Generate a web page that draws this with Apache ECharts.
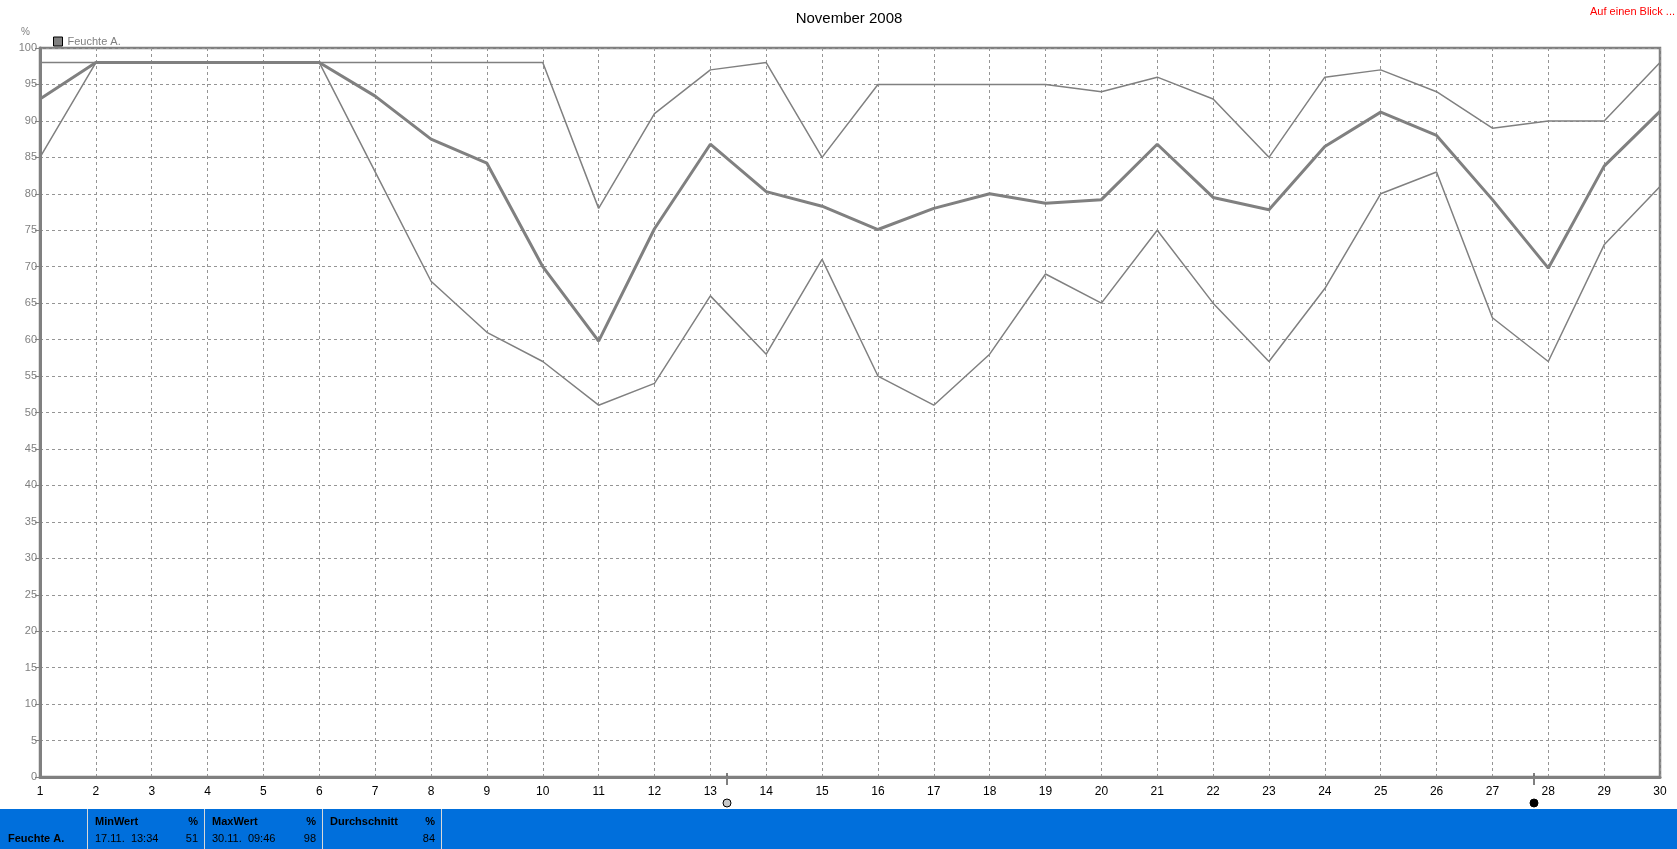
<!DOCTYPE html>
<html>
<head>
<meta charset="utf-8">
<script src="https://cdn.jsdelivr.net/npm/echarts@6/dist/echarts.min.js"></script>
<style>
html,body{margin:0;padding:0;background:#fff;}
#chart{width:1677px;height:849px;}
</style>
</head>
<body>
<div id="chart"></div>
<script>
// ---- data ----
const days = [1,2,3,4,5,6,7,8,9,10,11,12,13,14,15,16,17,18,19,20,21,22,23,24,25,26,27,28,29,30];
const maxValues = [98,98,98,98,98,98,98,98,98,98,78,91,97,98,85,95,95,95,95,94,96,93,85,96,97,94,89,90,90,98];
const avgValues = [93.0,98,98,98,98,98,93.4,87.5,84.2,70.0,59.8,75.2,86.8,80.3,78.3,75.1,78.0,80.0,78.7,79.2,86.8,79.5,77.8,86.5,91.2,88.0,79.2,69.8,83.8,91.3];
const minValues = [85,98,98,98,98,98,83,68,61,57,51,54,66,58,71,55,51,58,69,65,75,65,57,67,80,83,63,57,73,81];
const moonDays = [13.3, 27.75];
const moonPhases = ['full', 'new'];
const titleText = 'November 2008';
const seriesName = 'Feuchte A.';
const unitText = '%';
const summaryHeaders = ['MinWert', 'MaxWert', 'Durchschnitt'];
const summaryDates = ['17.11.  13:34', '30.11.  09:46', ''];
const summaryValues = ['51', '98', '84'];

const pair = arr => arr.map((v, i) => [days[i], v]);
const gray = '#808080';
const gridGray = '#959595';
const font = 'Liberation Sans, Arial, sans-serif';

const chart = echarts.init(document.getElementById('chart'), null, {renderer: 'canvas'});

const tableTop = 809;
const cellEdges = [0, 87, 204, 322, 441];

const graphics = [
  {type: 'text', left: 21, top: 27, style: {text: unitText, fill: gray, font: '10px ' + font}},
  {type: 'text', right: 2, top: 6, style: {text: 'Auf einen Blick ...', fill: '#ff0000', font: '11px ' + font}},
  {type: 'rect', shape: {x: 0, y: tableTop, width: 1677, height: 40}, style: {fill: '#006fdc'}}
];
for (let i = 1; i < cellEdges.length; i++) {
  graphics.push({type: 'rect', shape: {x: cellEdges[i], y: tableTop, width: 1, height: 40}, style: {fill: '#d8d8d8'}});
}
graphics.push({type: 'text', x: 8, y: 839, style: {text: seriesName, fill: '#000', font: 'bold 11px ' + font, textVerticalAlign: 'middle'}});
for (let i = 0; i < 3; i++) {
  const l = cellEdges[i + 1] + 8, r = cellEdges[i + 2] - 6;
  graphics.push({type: 'text', x: l, y: 822, style: {text: summaryHeaders[i], fill: '#000', font: 'bold 11px ' + font, textVerticalAlign: 'middle'}});
  graphics.push({type: 'text', x: r, y: 822, style: {text: unitText, fill: '#000', font: 'bold 11px ' + font, textAlign: 'right', textVerticalAlign: 'middle'}});
  if (summaryDates[i]) graphics.push({type: 'text', x: l, y: 839, style: {text: summaryDates[i], fill: '#000', font: '11px ' + font, textVerticalAlign: 'middle'}});
  graphics.push({type: 'text', x: r, y: 839, style: {text: summaryValues[i], fill: '#000', font: '11px ' + font, textAlign: 'right', textVerticalAlign: 'middle'}});
}

const option = {
  animation: false,
  backgroundColor: '#fff',
  title: {
    text: titleText, left: 844, top: 6, textAlign: 'center',
    textStyle: {fontFamily: font, fontSize: 15, fontWeight: 'normal', color: '#000'}
  },
  legend: {
    show: true, left: 48, top: 31, itemWidth: 9, itemHeight: 9, itemGap: 5,
    data: [{name: seriesName, icon: 'rect', itemStyle: {color: gray, borderColor: '#000', borderWidth: 1}}],
    textStyle: {fontFamily: font, fontSize: 11, color: gray}
  },
  grid: {left: 40, top: 48, right: 17, bottom: 72, show: true, borderColor: gray, borderWidth: 2.5, containLabel: false},
  xAxis: {
    type: 'value', min: 1, max: 30, interval: 1,
    axisLine: {show: true, lineStyle: {color: gray, width: 3}},
    axisTick: {show: false},
    axisLabel: {color: '#000', fontFamily: font, fontSize: 12, margin: 9},
    splitLine: {show: true, lineStyle: {color: gridGray, type: [3, 3], width: 1}}
  },
  yAxis: {
    type: 'value', min: 0, max: 100, interval: 5,
    axisLine: {show: true, lineStyle: {color: gray, width: 3}},
    axisTick: {show: true, length: 5, lineStyle: {color: gray}},
    axisLabel: {color: gray, fontFamily: font, fontSize: 11, margin: 3},
    splitLine: {show: true, lineStyle: {color: gridGray, type: [3, 3], width: 1}}
  },
  series: [
    {name: 'max', type: 'line', data: pair(maxValues), showSymbol: false, lineStyle: {color: gray, width: 1.5}, itemStyle: {color: gray}, z: 3},
    {name: 'min', type: 'line', data: pair(minValues), showSymbol: false, lineStyle: {color: gray, width: 1.5}, itemStyle: {color: gray}, z: 3},
    {name: seriesName, type: 'line', data: pair(avgValues), showSymbol: false, lineStyle: {color: gray, width: 3}, itemStyle: {color: gray}, z: 4}
  ],
  graphic: graphics
};
chart.setOption(option);

// moon phase markers placed via the x-axis scale
const moonGraphics = [];
const yAxisBase = chart.convertToPixel({yAxisIndex: 0}, 0);
moonDays.forEach((d, i) => {
  const px = Math.round(chart.convertToPixel({xAxisIndex: 0}, d));
  moonGraphics.push({type: 'line', shape: {x1: px, y1: yAxisBase - 4, x2: px, y2: yAxisBase + 8}, style: {stroke: '#000', lineWidth: 1}});
  moonGraphics.push({type: 'circle', shape: {cx: px, cy: 803, r: 4}, style: {fill: moonPhases[i] === 'full' ? '#c8c8c8' : '#000', stroke: '#000', lineWidth: 1}});
});
chart.setOption({graphic: graphics.concat(moonGraphics)});
</script>
</body>
</html>
